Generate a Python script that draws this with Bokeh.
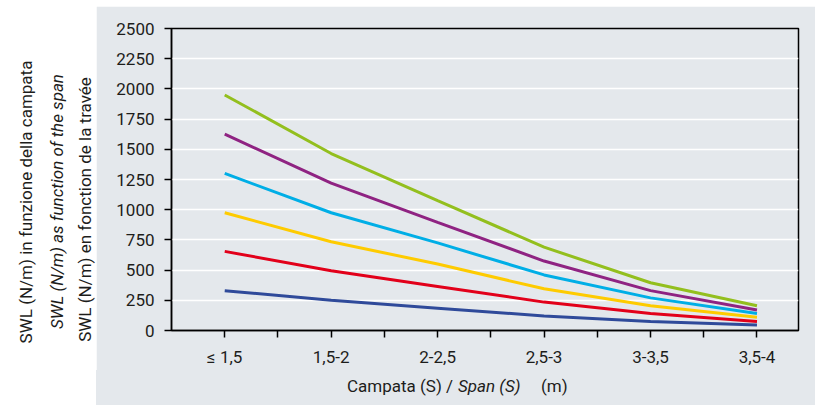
import numpy as np
from bokeh.plotting import figure
from bokeh.models import FixedTicker, Range1d, Spacer, Div
from bokeh.layouts import row, column
from bokeh.core.properties import value
from bokeh.embed import file_html
from bokeh.resources import INLINE

# ---- data ----
categories = ["≤ 1,5", "1,5-2", "2-2,5", "2,5-3", "3-3,5", "3,5-4"]
swl_green = [1950, 1465, 1075, 690, 395, 205]
swl_purple = [1625, 1220, 895, 575, 330, 170]
swl_cyan = [1300, 975, 725, 460, 270, 140]
swl_yellow = [975, 735, 550, 345, 205, 110]
swl_red = [655, 495, 365, 235, 140, 75]
swl_blue = [330, 250, 185, 120, 75, 45]
y_ticks = [0, 250, 500, 750, 1000, 1250, 1500, 1750, 2000, 2250, 2500]
y_title_lines = ["SWL (N/m) in funzione della campata",
                 "SWL (N/m) as function of the span",
                 "SWL (N/m) en fonction de la travée"]
x_title_parts = ["Campata (S) /", "Span (S)", "(m)"]

FONT = "Roboto"
TEXT = "#1d1d1b"
BG = "#e4e8ec"
FS = "17px"

# ---- left white panel with the y-axis titles ----
left = figure(width=96, height=405, output_backend="svg", toolbar_location=None,
              x_axis_type=None, y_axis_type=None, min_border=0,
              x_range=Range1d(0, 96), y_range=Range1d(0, 405))
left.grid.visible = False
left.outline_line_color = None
left.background_fill_color = "white"
left.border_fill_color = "white"

for txt, style, xs, ys in zip(y_title_lines, ["normal", "italic", "normal"],
                              [25, 56, 84], [203.5, 204, 196]):
    left.text(x=[xs], y=[ys], text=[txt], angle=np.pi / 2,
              text_align="center", text_baseline="middle",
              text_font=value(FONT), text_font_size=value(FS),
              text_font_style=style, text_color=TEXT)

# ---- main chart ----
p = figure(width=719, height=364, output_backend="svg", toolbar_location=None,
           x_range=Range1d(-0.5, 5.39), y_range=Range1d(0, 2500),
           min_border_left=75, min_border_right=17, min_border_top=22, min_border_bottom=40)
p.background_fill_color = BG
p.border_fill_color = BG
p.outline_line_color = "black"
p.outline_line_width = 1.5

xs = list(range(len(categories)))
series = [
    (swl_blue, "#2f4a9a"),
    (swl_red, "#e2001a"),
    (swl_yellow, "#fecb00"),
    (swl_cyan, "#00aee6"),
    (swl_purple, "#8f2382"),
    (swl_green, "#93bf1e"),
]
for vals, col in series:
    p.line(xs, vals, line_color=col, line_width=3)

p.xgrid.visible = False
p.ygrid.grid_line_color = "white"
p.ygrid.grid_line_width = 1.5

p.xaxis.ticker = FixedTicker(ticks=xs, minor_ticks=[i + 0.5 for i in xs[:-1]])
p.xaxis.major_label_overrides = {i: c for i, c in enumerate(categories)}
p.yaxis.ticker = FixedTicker(ticks=y_ticks, minor_ticks=[])

for ax in (p.xaxis[0], p.yaxis[0]):
    ax.axis_line_color = "black"
    ax.axis_line_width = 1.5
    ax.major_tick_line_color = "black"
    ax.major_tick_line_width = 1.5
    ax.minor_tick_line_color = "black"
    ax.minor_tick_line_width = 1.5
    ax.major_tick_in = 0
    ax.major_tick_out = 7
    ax.minor_tick_in = 0
    ax.minor_tick_out = 7
    ax.major_label_text_font = FONT
    ax.major_label_text_font_size = FS
    ax.major_label_text_color = TEXT
p.xaxis.major_label_standoff = 9
p.yaxis.major_label_standoff = 10

# ---- bottom strip with the mixed-style x-axis title ----
base = f"position:absolute; top:6px; line-height:21px; font-family:{FONT}; font-size:{FS}; color:{TEXT}; white-space:nowrap;"
title_html = (
    f'<div style="position:relative; width:719px; height:35px;">'
    f'<span style="{base} left:251px;">{x_title_parts[0]}</span>'
    f'<span style="{base} left:362px; font-style:italic;">{x_title_parts[1]}</span>'
    f'<span style="{base} left:445px;">{x_title_parts[2]}</span>'
    f'</div>'
)
strip = Div(text=title_html, width=719, height=35,
            styles={"background-color": BG, "margin": "0", "padding": "0"})

layout = row(left, column(Spacer(width=719, height=6), p, strip))
open("out.html", "w").write(file_html(layout, INLINE))
